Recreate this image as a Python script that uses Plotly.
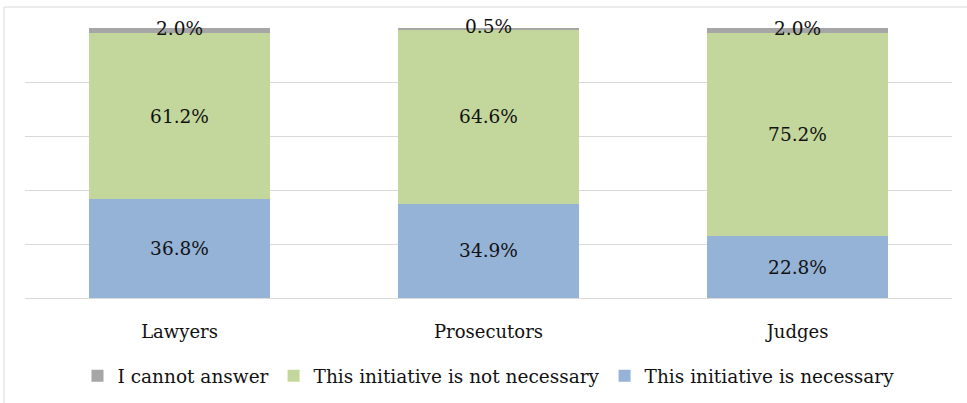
import plotly.graph_objects as go

categories = ["Lawyers", "Prosecutors", "Judges"]
necessary = [36.8, 34.9, 22.8]
not_necessary = [61.2, 64.6, 75.2]
cannot_answer = [2.0, 0.5, 2.0]
series_names = ["This initiative is necessary", "This initiative is not necessary", "I cannot answer"]
colors = ["#95B3D7", "#C3D69B", "#A6A6A6"]

FONT = "DejaVu Serif"
FS = 18.5
TXT = "#111111"
fig = go.Figure()
for name, vals, col in zip(series_names[:2], [necessary, not_necessary], colors[:2]):
    fig.add_trace(go.Bar(
        x=categories, y=vals, name=name, marker=dict(color=col, line=dict(width=0)),
        text=[f"{v:.1f}%" for v in vals], textposition="inside", insidetextanchor="middle",
        textfont=dict(family=FONT, size=FS, color=TXT), hoverinfo="skip",
    ))
fig.add_trace(go.Bar(
    x=categories, y=cannot_answer, name=series_names[2],
    marker=dict(color=colors[2], line=dict(width=0)), hoverinfo="skip",
))
grey_mid = [a + b + c / 2 for a, b, c in zip(necessary, not_necessary, cannot_answer)]
fig.add_trace(go.Scatter(
    x=categories, y=grey_mid, mode="text", text=[f"{v:.1f}%" for v in cannot_answer],
    textposition="middle center", textfont=dict(family=FONT, size=FS, color=TXT),
    showlegend=False, cliponaxis=False, hoverinfo="skip",
))

fig.update_layout(
    width=967, height=403, barmode="stack", bargap=0.414,
    margin=dict(l=25, r=15, t=28, b=105, autoexpand=False),
    plot_bgcolor="white", paper_bgcolor="white",
    font=dict(family=FONT, size=FS, color=TXT),
    showlegend=True,
    legend=dict(orientation="h", x=0.5, xanchor="center", y=-0.29, yanchor="middle",
                traceorder="reversed", font=dict(family=FONT, size=FS, color=TXT),
                bgcolor="rgba(0,0,0,0)", itemwidth=30, tracegroupgap=0),
    xaxis=dict(showgrid=False, ticks="outside", ticklen=17, tickcolor="rgba(0,0,0,0)",
               showline=True, linecolor="#D9D9D9", linewidth=1,
               tickfont=dict(family=FONT, size=18, color=TXT)),
    yaxis=dict(range=[0, 100], dtick=20, showgrid=True, gridcolor="#D9D9D9", gridwidth=1,
               showticklabels=False, zeroline=False, fixedrange=True),
    shapes=[dict(type="rect", xref="paper", yref="paper",
                 x0=(4 - 25) / 927, x1=(975 - 25) / 927,
                 y0=-(420 - 298) / 270, y1=1 + 21 / 270,
                 line=dict(color="#D9D9D9", width=1), layer="below")],
)
fig.write_html("out.html", config={"displayModeBar": False},
               post_script="document.body.style.margin='0px';document.body.style.overflow='hidden';")
